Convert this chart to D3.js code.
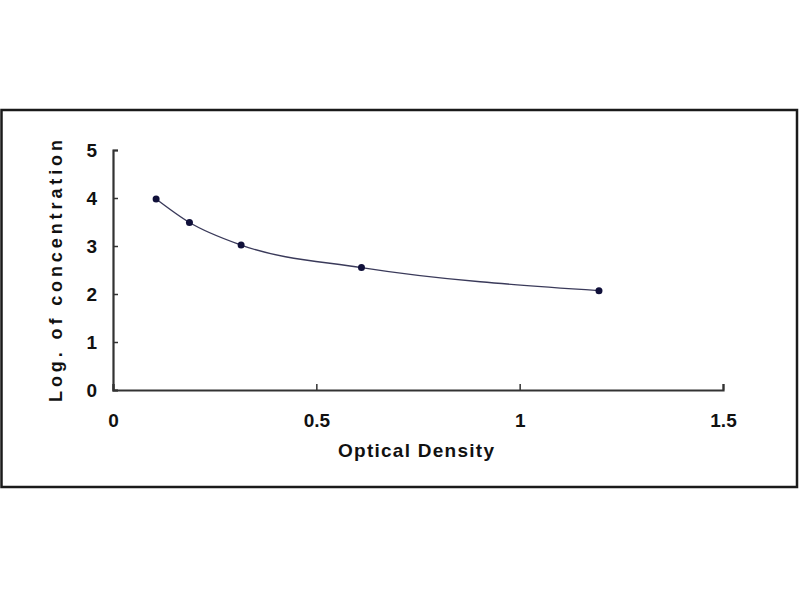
<!DOCTYPE html>
<html>
<head>
<meta charset="utf-8">
<script src="https://cdn.jsdelivr.net/npm/d3@7"></script>
<style>
  body { margin: 0; background: #fff; }
  text { font-family: "Liberation Sans", Arial, sans-serif; font-weight: bold; }
</style>
</head>
<body>
<script>
// optical density readings and log concentrations of the standard curve
const opticalDensity = [0.106, 0.188, 0.315, 0.611, 1.195];
const logConcentration = [3.98, 3.49, 3.02, 2.55, 2.07];
const xTicks = [0, 0.5, 1, 1.5];
const yTicks = [0, 1, 2, 3, 4, 5];

const width = 800, height = 600;
const plotLeft = 113, plotRight = 723, plotTop = 150, plotBottom = 390;

const svg = d3.select('body').append('svg')
    .attr('width', width).attr('height', height)
    .attr('xmlns', 'http://www.w3.org/2000/svg');

// frame
svg.append('rect')
    .attr('x', 1.5).attr('y', 110)
    .attr('width', 795.5).attr('height', 377)
    .attr('fill', 'none')
    .attr('stroke', '#1a1a1a')
    .attr('stroke-width', 2.5);

const x = d3.scaleLinear().domain([0, 1.5]).range([plotLeft, plotRight]);
const y = d3.scaleLinear().domain([0, 5]).range([plotBottom, plotTop]);

// x axis: ticks point up, labels sit well below
const xAxis = svg.append('g')
    .attr('transform', `translate(0, ${plotBottom})`)
    .call(d3.axisBottom(x).tickValues(xTicks).tickSize(-6).tickPadding(24)
        .tickFormat(d => String(d)));
xAxis.select('.domain').attr('stroke', '#333').attr('stroke-width', 2.2);
xAxis.selectAll('.tick line').attr('stroke', '#333').attr('stroke-width', 1.5);
xAxis.selectAll('text').attr('font-size', 19).attr('fill', '#111')
    .attr('font-family', '"Liberation Sans", Arial, sans-serif').attr('font-weight', 'bold');

// y axis: ticks point right into the plot
const yAxis = svg.append('g')
    .attr('transform', `translate(${plotLeft}, 0)`)
    .call(d3.axisLeft(y).tickValues(yTicks).tickSize(-5).tickPadding(16)
        .tickFormat(d3.format('d')));
yAxis.select('.domain').attr('stroke', '#333').attr('stroke-width', 2.2);
yAxis.selectAll('.tick line').attr('stroke', '#333').attr('stroke-width', 1.5);
yAxis.selectAll('text').attr('font-size', 19).attr('fill', '#111')
    .attr('font-family', '"Liberation Sans", Arial, sans-serif').attr('font-weight', 'bold');

const pts = opticalDensity.map((d, i) => [d, logConcentration[i]]);

svg.append('path')
    .datum(pts)
    .attr('fill', 'none')
    .attr('stroke', '#3a3a5a')
    .attr('stroke-width', 1.4)
    .attr('d', d3.line().x(d => x(d[0])).y(d => y(d[1])).curve(d3.curveMonotoneX));

svg.selectAll('.pt')
    .data(pts)
    .enter()
    .append('circle')
    .attr('class', 'pt')
    .attr('cx', d => x(d[0]))
    .attr('cy', d => y(d[1]))
    .attr('r', 3.5)
    .attr('fill', '#10103a');

svg.append('text')
    .attr('x', 416).attr('y', 457)
    .attr('text-anchor', 'middle')
    .attr('font-size', 19)
    .attr('fill', '#111')
    .attr('textLength', 156)
    .attr('lengthAdjust', 'spacing')
    .text('Optical Density');

svg.append('text')
    .attr('transform', 'translate(62, 271) rotate(-90)')
    .attr('text-anchor', 'middle')
    .attr('font-size', 18)
    .attr('fill', '#111')
    .attr('textLength', 262)
    .attr('lengthAdjust', 'spacing')
    .text('Log. of concentration');
</script>
</body>
</html>
